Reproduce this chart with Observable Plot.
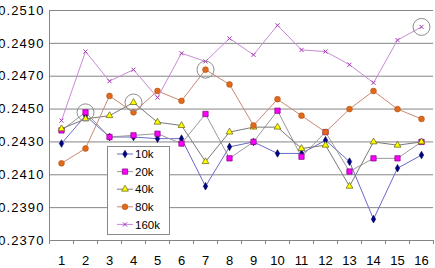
<!DOCTYPE html>
<html>
<head>
<meta charset="utf-8">
<script src="https://cdn.jsdelivr.net/npm/d3@7"></script>
<script src="https://cdn.jsdelivr.net/npm/@observablehq/plot@0.6"></script>
<style>
  body { margin: 0; background: #fff; }
  #chart { position: relative; width: 435px; height: 268px; overflow: hidden; }
  #legend { position: absolute; left: 107px; top: 146px; }
</style>
</head>
<body>
<div id="chart"></div>
<script>
// Run index along the x axis
const runs = d3.range(1, 17);

// Measured value per run for each sample size
const s10k  = [0.2429, 0.2446, 0.2433, 0.2433, 0.2432, 0.2432, 0.2403, 0.2427, 0.2430, 0.2423, 0.2423, 0.2431, 0.2418, 0.2383, 0.2414, 0.2422];
const s20k  = [0.2437, 0.2448, 0.2433, 0.2434, 0.2435, 0.2429, 0.2447, 0.2420, 0.2430, 0.2449, 0.2421, 0.2436, 0.2412, 0.2420, 0.2420, 0.2430];
const s40k  = [0.2438, 0.2444, 0.2446, 0.2454, 0.2442, 0.2440, 0.2418, 0.2436, 0.2439, 0.2439, 0.2426, 0.2428, 0.2403, 0.2430, 0.2428, 0.2430];
const s80k  = [0.2417, 0.2426, 0.2458, 0.2448, 0.2461, 0.2455, 0.2474, 0.2465, 0.2440, 0.2456, 0.2446, 0.2436, 0.2450, 0.2461, 0.2450, 0.2444];
const s160k = [0.2443, 0.2485, 0.2467, 0.2474, 0.2457, 0.2484, 0.2479, 0.2493, 0.2483, 0.2501, 0.2486, 0.2485, 0.2477, 0.2466, 0.2492, 0.2500];

const seriesNames = ["10k", "20k", "40k", "80k", "160k"];
const seriesValues = [s10k, s20k, s40k, s80k, s160k];

// y axis ticks
const yTicks = [0.2370, 0.2390, 0.2410, 0.2430, 0.2450, 0.2470, 0.2490, 0.2510];

// Points circled on the chart: [run, series]
const highlights = [[2, "20k"], [4, "40k"], [7, "80k"], [16, "160k"]];

// Marker and line styling per series
const styles = {
  "10k":  {line: "#6a6ac8", symbol: "diamond",  fill: "#000080", stroke: "#000060", r: 2.3, sw: 0.6},
  "20k":  {line: "#9a9a9a", symbol: "square",   fill: "#ff00ff", stroke: "#800080", r: 3.0, sw: 0.7},
  "40k":  {line: "#7a7a7a", symbol: "triangle", fill: "#ffff00", stroke: "#5e5e00", r: 2.5, sw: 0.7},
  "80k":  {line: "#c98a74", symbol: "circle",   fill: "#e0691c", stroke: "#b0500e", r: 2.9, sw: 0.6},
  "160k": {line: "#c88ad6", symbol: "times",    fill: "none",    stroke: "#a838b8", r: 2.0, sw: 1.0}
};

const rows = seriesNames.flatMap((name, i) =>
  runs.map((run, j) => ({series: name, run, value: seriesValues[i][j]})));

const circled = highlights.map(([run, name]) =>
  rows.find(d => d.run === run && d.series === name));

const font = "'Liberation Sans', Arial, sans-serif";

const marks = [
  Plot.gridY(yTicks, {stroke: "#858585", strokeOpacity: 1}),
  Plot.ruleX([0.5], {stroke: "#858585"}),
  // category boundary tick marks under the x axis
  Plot.axisX(d3.range(0.5, 17, 1), {tickSize: 4, stroke: "#858585", tickFormat: () => "", label: null}),
  Plot.axisX(runs, {tickSize: 0, tickPadding: 15, fontSize: 13, label: null}),
  Plot.axisY(yTicks, {tickSize: 0, tickPadding: 5, fontSize: 13, tickFormat: d3.format(".4f"), label: null})
];

for (const name of seriesNames) {
  const st = styles[name];
  const data = rows.filter(d => d.series === name);
  marks.push(Plot.line(data, {x: "run", y: "value", stroke: st.line, strokeWidth: 1}));
  marks.push(Plot.dot(data, {
    x: "run", y: "value", symbol: () => st.symbol, r: st.r,
    fill: st.fill, stroke: st.stroke, strokeWidth: st.sw
  }));
}

marks.push(Plot.dot(circled, {x: "run", y: "value", r: 8.5, fill: "none", stroke: "#8c8c8c", strokeWidth: 1}));

const chart = Plot.plot({
  width: 435,
  height: 268,
  marginLeft: 49,
  marginRight: 2,
  marginTop: 10,
  marginBottom: 28,
  style: {fontFamily: font, color: "#000", background: "#fff"},
  x: {type: "linear", domain: [0.5, 16.5]},
  y: {domain: [0.2370, 0.2510]},
  symbol: {type: "identity"},
  marks
});

d3.select(chart).selectAll('[aria-label="y-axis tick label"] text').style("letter-spacing", "1.1px");

const host = document.getElementById("chart");
host.appendChild(chart);

// Legend box with a line-and-marker swatch for each series
const rowH = 17.6;
const legend = d3.create("svg")
  .attr("id", "legend")
  .attr("width", 63)
  .attr("height", 89)
  .style("font-family", font);
legend.append("rect")
  .attr("x", 0.5).attr("y", 0.5).attr("width", 62).attr("height", 88)
  .attr("fill", "#fff").attr("stroke", "#8a8a8a");
const symbolTypes = {diamond: d3.symbolDiamond, square: d3.symbolSquare, triangle: d3.symbolTriangle, circle: d3.symbolCircle, times: d3.symbolTimes};
seriesNames.forEach((name, i) => {
  const st = styles[name];
  const cy = 8 + i * rowH;
  const g = legend.append("g").attr("transform", `translate(0,${cy})`);
  g.append("line").attr("x1", 10).attr("x2", 26).attr("y1", 0).attr("y2", 0)
    .attr("stroke", st.line).attr("stroke-width", 1);
  g.append("path")
    .attr("transform", "translate(18,0)")
    .attr("d", d3.symbol(symbolTypes[st.symbol], Math.PI * st.r * st.r)())
    .attr("fill", st.fill).attr("stroke", st.stroke)
    .attr("stroke-width", st.sw);
  g.append("text").attr("x", 28).attr("y", 0).attr("dy", "0.36em")
    .attr("font-size", 11.5).text(name);
});
host.appendChild(legend.node());
</script>
</body>
</html>
